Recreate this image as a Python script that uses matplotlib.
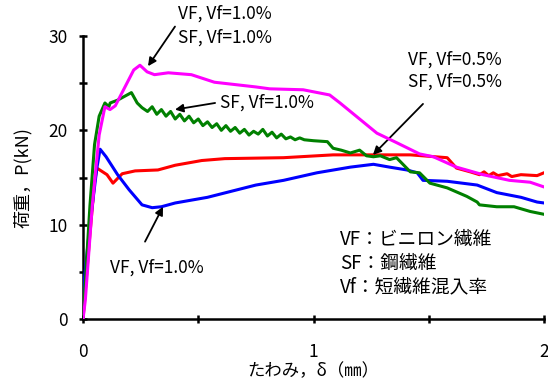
import matplotlib
matplotlib.use('Agg')
import matplotlib.pyplot as plt
from matplotlib.ticker import MultipleLocator

plt.rcParams['font.family'] = ['Noto Sans CJK JP', 'DejaVu Sans']

# VF, Vf=1.0% (blue)
vf_x = [0, 0.005, 0.03, 0.06, 0.074, 0.1, 0.15, 0.2, 0.256, 0.3, 0.34, 0.4, 0.54, 0.75, 0.87,
        1.015, 1.16, 1.26, 1.33, 1.405, 1.45, 1.475, 1.58, 1.71, 1.795, 1.9, 1.97, 2.0]
vf_y = [0, 4, 10, 16, 18.0, 17.2, 15.3, 13.7, 12.1, 11.8, 11.9, 12.3, 12.9, 14.2, 14.7,
        15.5, 16.1, 16.4, 16.1, 15.8, 15.5, 14.7, 14.6, 14.2, 13.4, 12.9, 12.4, 12.3]

# VF 0.5% + SF 0.5% (red)
hyb05_x = [0, 0.01, 0.03, 0.05, 0.06, 0.104, 0.13, 0.17, 0.226, 0.325, 0.40, 0.515, 0.615, 0.87,
           1.085, 1.42, 1.58, 1.62, 1.68, 1.72, 1.74, 1.76, 1.78, 1.80, 1.84, 1.86, 1.9, 1.97, 2.0]
hyb05_y = [0, 3, 9, 14.5, 16.0, 15.3, 14.4, 15.4, 15.7, 15.8, 16.3, 16.8, 17.0, 17.1,
           17.4, 17.4, 17.1, 16.0, 15.6, 15.3, 15.6, 15.2, 15.5, 15.2, 15.4, 15.1, 15.3, 15.2, 15.5]

# VF 1.0% + SF 1.0% (magenta)
hyb10_x = [0, 0.01, 0.04, 0.07, 0.095, 0.117, 0.14, 0.18, 0.22, 0.247, 0.278, 0.31, 0.37, 0.47,
           0.57, 0.75, 0.81, 0.955, 1.07, 1.115, 1.19, 1.275, 1.36, 1.46, 1.52, 1.62, 1.735,
           1.85, 1.94, 2.0]
hyb10_y = [0, 2, 12, 19.5, 22.5, 22.2, 22.6, 24.5, 26.4, 26.9, 26.2, 25.9, 26.1, 25.9,
           25.1, 24.6, 24.4, 24.3, 23.75, 22.9, 21.4, 19.7, 18.7, 17.5, 17.2, 16.1, 15.3,
           14.7, 14.5, 14.0]

# SF, Vf=1.0% (green)
sf_x = [0, 0.01, 0.03, 0.05, 0.07, 0.095, 0.112, 0.118, 0.15, 0.21, 0.235, 0.256,
        0.28, 0.30, 0.32, 0.34, 0.36, 0.38, 0.40, 0.42, 0.44, 0.46, 0.48, 0.50, 0.52, 0.54,
        0.56, 0.58, 0.60, 0.62, 0.64, 0.66, 0.68, 0.70, 0.72, 0.74, 0.76, 0.78, 0.80, 0.82,
        0.84, 0.86, 0.88, 0.90, 0.92, 0.94, 0.96, 1.00, 1.06,
        1.085, 1.12, 1.16, 1.2, 1.23, 1.26, 1.29, 1.33, 1.36, 1.42, 1.46, 1.505, 1.58,
        1.665, 1.71, 1.72, 1.795, 1.87, 1.94, 2.0]
sf_y = [0, 4, 12, 18.5, 21.5, 22.9, 22.5, 22.9, 23.2, 24.0, 22.9, 22.4,
        22.0, 22.5, 21.7, 22.2, 21.5, 22.0, 21.2, 21.7, 21.0, 21.5, 20.8, 21.2, 20.5, 20.9,
        20.3, 20.7, 20.0, 20.5, 19.9, 20.3, 19.7, 20.1, 19.5, 19.9, 19.6, 20.1, 19.4, 19.8,
        19.2, 19.6, 19.1, 19.3, 19.0, 19.2, 19.0, 18.9, 18.8,
        18.1, 17.9, 17.6, 17.9, 17.3, 17.2, 17.3, 16.9, 17.1, 15.6, 15.5, 14.4, 13.9,
        13.0, 12.4, 12.1, 11.9, 11.9, 11.4, 11.1]

fig = plt.figure(figsize=(5.48, 3.85), dpi=100)
ax = fig.add_axes([0.1515, 0.1714, 0.8412, 0.7351])

lw = 2.2
ax.plot(hyb05_x, hyb05_y, color='#ff0000', lw=lw, zorder=3)
ax.plot(vf_x, vf_y, color='#0000ff', lw=lw, zorder=3)
ax.plot(sf_x, sf_y, color='#008000', lw=lw, zorder=3)
ax.plot(hyb10_x, hyb10_y, color='#ff00ff', lw=lw, zorder=4)

ax.set_xlim(0, 2)
ax.set_ylim(0, 30)
for s in ['top', 'right']:
    ax.spines[s].set_visible(False)
for s in ['left', 'bottom']:
    ax.spines[s].set_linewidth(1.8)
ax.xaxis.set_major_locator(MultipleLocator(1))
ax.xaxis.set_minor_locator(MultipleLocator(0.5))
ax.yaxis.set_major_locator(MultipleLocator(10))
ax.yaxis.set_minor_locator(MultipleLocator(5))
ax.tick_params(which='both', direction='inout', length=6, width=1.8, labelsize=12.5)
ax.tick_params(axis='x', pad=14)
ax.tick_params(axis='y', pad=8)

ax.set_xlabel('たわみ，δ（㎜）', fontsize=12.5, labelpad=1)
ax.set_ylabel('荷重，P(kN)', fontsize=13, labelpad=12)

fs = 12.5
ax.text(0.412, 32.4, 'VF, Vf=1.0%', fontsize=fs, va='center', ha='left')
ax.text(0.412, 29.8, 'SF, Vf=1.0%', fontsize=fs, va='center', ha='left')
ax.text(0.594, 22.9, 'SF, Vf=1.0%', fontsize=fs, va='center', ha='left')
ax.text(1.41, 27.5, 'VF, Vf=0.5%', fontsize=fs, va='center', ha='left')
ax.text(1.41, 25.2, 'SF, Vf=0.5%', fontsize=fs, va='center', ha='left')
ax.text(0.117, 5.4, 'VF, Vf=1.0%', fontsize=fs, va='center', ha='left')

lfs = 13.5
ax.text(1.115, 8.4, 'VF：ビニロン繊維', fontsize=lfs, va='center', ha='left')
ax.text(1.115, 5.9, 'SF：鋼繊維', fontsize=lfs, va='center', ha='left')
ax.text(1.115, 3.4, 'Vf：短繊維混入率', fontsize=lfs, va='center', ha='left')

arrow = dict(arrowstyle='-|>', color='black', lw=1.3, mutation_scale=12, shrinkA=0, shrinkB=0)
ax.annotate('', xy=(0.282, 26.8), xytext=(0.399, 31.0), arrowprops=arrow, annotation_clip=False)
ax.annotate('', xy=(0.399, 22.2), xytext=(0.573, 22.9), arrowprops=arrow)
ax.annotate('', xy=(1.258, 17.4), xytext=(1.475, 22.8), arrowprops=arrow)
ax.annotate('', xy=(0.347, 11.9), xytext=(0.269, 8.2), arrowprops=arrow)

plt.savefig('out.png')
plt.close()
